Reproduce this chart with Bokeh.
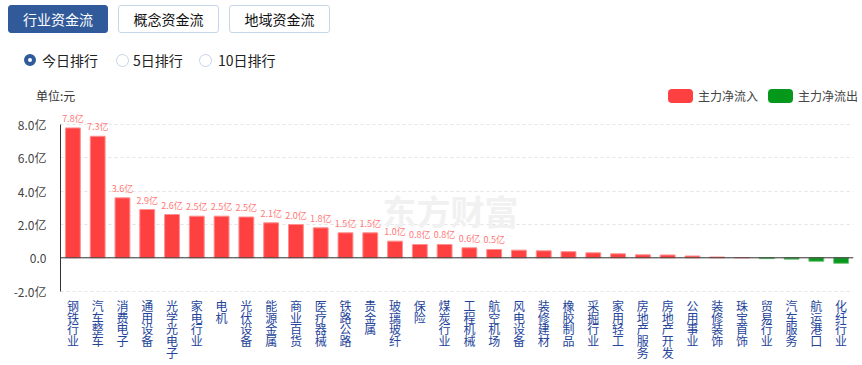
from bokeh.plotting import figure
from bokeh.models import ColumnDataSource, FactorRange, Range1d, FixedTicker, Span, Div, Label
from bokeh.layouts import column
from bokeh.embed import file_html
from bokeh.resources import INLINE
from bokeh.core.properties import value

FONT = "Noto Sans CJK SC"

industries = ["钢铁行业", "汽车整车", "消费电子", "通用设备", "光学光电子", "家电行业", "电机", "光伏设备",
              "能源金属", "商业百货", "医疗器械", "铁路公路", "贵金属", "玻璃玻纤", "保险", "煤炭行业",
              "工程机械", "航空机场", "风电设备", "装修建材", "橡胶制品", "采掘行业", "家用轻工", "房地产服务",
              "房地产开发", "公用事业", "装修装饰", "珠宝首饰", "贸易行业", "汽车服务", "航运港口", "化纤行业"]
net_flow = [7.8, 7.3, 3.6, 2.9, 2.6, 2.5, 2.5, 2.45, 2.1, 2.0, 1.8, 1.5, 1.5, 1.0, 0.8, 0.8, 0.6, 0.5,
            0.46, 0.42, 0.37, 0.30, 0.24, 0.18, 0.17, 0.11, 0.05, 0.01, -0.05, -0.08, -0.21, -0.33]
bar_labels = ["7.8亿", "7.3亿", "3.6亿", "2.9亿", "2.6亿", "2.5亿", "2.5亿", "2.5亿", "2.1亿", "2.0亿",
              "1.8亿", "1.5亿", "1.5亿", "1.0亿", "0.8亿", "0.8亿", "0.6亿", "0.5亿"]
y_ticks = [-2, 0, 2, 4, 6, 8]
y_tick_labels = ["-2.0亿", "0.0", "2.0亿", "4.0亿", "6.0亿", "8.0亿"]

tabs = ["行业资金流", "概念资金流", "地域资金流"]
radios = ["今日排行", "5日排行", "10日排行"]
unit_text = "单位:元"
legend_items = ["主力净流入", "主力净流出"]

RED, RED_EDGE = "#ff4040", "#ff9090"
GREEN, GREEN_EDGE = "#06981a", "#70c277"

# ---------- header (tabs, radios, unit, legend) ----------
tab_left = [8, 118, 229]
tab_w = [100, 101, 101]
html = [f'<div style="position:relative;width:862px;height:106px;font-family:\'{FONT}\';color:#222;">']
for i, t in enumerate(tabs):
    if i == 0:
        st = "background:#315a9b;border:1px solid #315a9b;color:#fff;"
    else:
        st = "background:#fff;border:1px solid #c5d6ea;color:#111;"
    html.append(f'<div style="position:absolute;left:{tab_left[i]}px;top:5px;width:{tab_w[i]}px;height:28px;'
                f'box-sizing:border-box;border-radius:3px;{st}font-size:14px;line-height:26px;text-align:center;">{t}</div>')
radio_circle = [24, 115.5, 199]
radio_text = [42, 133, 218]
for i, r in enumerate(radios):
    if i == 0:
        html.append(f'<div style="position:absolute;left:{radio_circle[i]}px;top:54px;width:12px;height:12px;'
                    f'box-sizing:border-box;border:4px solid #315a9b;border-radius:50%;background:#fff;"></div>')
    else:
        html.append(f'<div style="position:absolute;left:{radio_circle[i]}px;top:53.5px;width:13px;height:13px;'
                    f'box-sizing:border-box;border:1px solid #c8d4e4;border-radius:50%;background:#fff;"></div>')
    html.append(f'<div style="position:absolute;left:{radio_text[i]}px;top:50px;font-size:14px;line-height:20px;'
                f'white-space:nowrap;color:#222;">{r}</div>')
html.append(f'<div style="position:absolute;left:36px;top:88px;font-size:12px;line-height:16px;color:#333;">{unit_text}</div>')
sw_left = [668, 768]
sw_col = [RED, GREEN]
for i, t in enumerate(legend_items):
    html.append(f'<div style="position:absolute;left:{sw_left[i]}px;top:89px;width:25px;height:14px;'
                f'border-radius:4px;background:{sw_col[i]};"></div>')
    html.append(f'<div style="position:absolute;left:{sw_left[i] + 30}px;top:88px;font-size:12px;line-height:16px;'
                f'white-space:nowrap;color:#444;">{t}</div>')
html.append('</div>')
header = Div(text="".join(html), width=862, height=106, margin=(0, 0, 0, 0))

# ---------- chart ----------
colors = [RED if v >= 0 else GREEN for v in net_flow]
edges = [RED_EDGE if v >= 0 else GREEN_EDGE for v in net_flow]
src = ColumnDataSource(dict(x=industries, top=net_flow, fc=colors, lc=edges))

y_start, y_end = -2.084, 8.847
p = figure(x_range=FactorRange(factors=industries, range_padding=0),
           y_range=Range1d(y_start, y_end),
           frame_width=793, frame_height=182,
           min_border_left=60, min_border_right=9, min_border_top=4, min_border_bottom=73,
           output_backend="svg", toolbar_location=None, tools="",
           background_fill_color="white", border_fill_color="white")
p.outline_line_color = None
p.margin = (0, 0, 0, 0)

p.add_layout(Label(x=390, y=82, x_units="screen", y_units="screen", text="东方财富",
                   text_font=FONT, text_font_size="34px", text_font_style="bold",
                   text_color="#f1f1f1", text_align="center", text_baseline="middle", level="underlay"))

p.vbar(x="x", top="top", bottom=0, width=0.6, source=src,
       fill_color="fc", line_color="lc", line_width=1)

p.text(x=industries[:len(bar_labels)], y=net_flow[:len(bar_labels)], text=bar_labels,
       text_align="center", text_baseline="bottom", y_offset=-3,
       text_font_size="9px", text_color="#ff7878", text_font=value(FONT))

p.add_layout(Span(location=0, dimension="width", line_color="#333333", line_width=1))

# vertical category labels, one character per row, below the frame
max_len = max(len(n) for n in industries)
for k in range(max_len):
    xs = [n for n in industries if len(n) > k]
    chars = [n[k] for n in industries if len(n) > k]
    p.text(x=xs, y=[y_start] * len(xs), text=chars, y_offset=4.5 + 11.7 * k,
           text_align="center", text_baseline="top", text_font_size="12px",
           text_color="#24449a", text_font=value(FONT), level="overlay")

p.xgrid.grid_line_color = None
p.ygrid.ticker = FixedTicker(ticks=y_ticks)
p.ygrid.grid_line_color = "#e3e3e3"
p.ygrid.grid_line_dash = "3 3"

p.yaxis.ticker = FixedTicker(ticks=y_ticks)
p.yaxis.major_label_overrides = {t: l for t, l in zip(y_ticks, y_tick_labels)}
p.yaxis.bounds = (-2, 8)
p.yaxis.axis_line_color = "#333333"
p.yaxis.major_tick_line_color = None
p.yaxis.minor_tick_line_color = None
p.yaxis.major_label_standoff = 8
p.yaxis.major_label_text_font = FONT
p.yaxis.major_label_text_font_size = "12px"
p.yaxis.major_label_text_color = "#444444"

p.xaxis.visible = False

layout = column(header, p, spacing=0, margin=(0, 0, 0, 0))
open("out.html", "w").write(file_html(layout, INLINE))
